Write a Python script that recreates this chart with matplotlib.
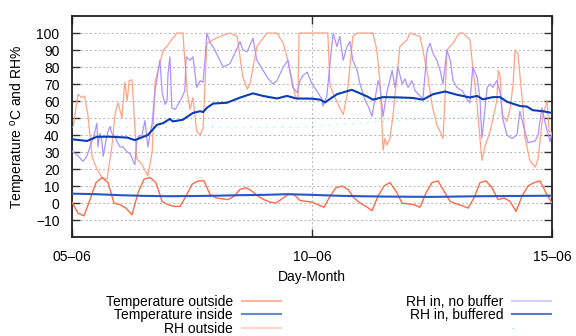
import numpy as np
import matplotlib
matplotlib.use("Agg")
import matplotlib.pyplot as plt
from matplotlib.lines import Line2D

plt.rcParams["font.family"] = ["Liberation Sans", "DejaVu Sans"]
plt.rcParams["font.size"] = 10
plt.rcParams["mathtext.fontset"] = "custom"
plt.rcParams["mathtext.rm"] = "Liberation Sans"

# --- data (days since 05-06 00:00) ---
# Temperature outside, every 3 hours
temp_out_day = np.arange(0, 10.001, 0.125)
temp_out = [0.5, -6, -7.5, 2, 12, 15, 12, 0, -1, -3, -7, 6, 14, 15, 12, 1,
            -1, -2, -2, 4, 11, 13, 13, 5, 3, 2.5, 2, 4, 8, 9, 7, 4,
            2, 0.5, 0, 2.5, 5, 5, 1.5, 1, 0.5, -1, -2.5, 4, 9, 10, 8, 3,
            0, -2, -4.5, 4, 10, 12, 7, 0, -0.5, -1, -2.5, 6, 12, 13, 7, 1,
            -0.5, -1.5, -3, 3, 12, 13, 9, 2, 3, 1, -5, 4, 10, 12, 13, 6, 0]

# Temperature inside, every 12 hours
temp_in_day = np.arange(0, 10.001, 0.5)
temp_in = [5.5, 5.2, 4.6, 4.2, 4.0, 4.1, 4.3, 4.6, 4.8, 5.2, 4.8,
           4.3, 4.0, 3.8, 3.7, 3.6, 3.8, 4.0, 4.1, 4.2, 4.3]

# RH outside
rh_out_day = [0.0, 0.03, 0.125, 0.2, 0.26, 0.33, 0.42, 0.52, 0.625, 0.73,
              0.83, 0.9, 0.96, 1.04, 1.1, 1.15, 1.19, 1.25, 1.35, 1.45,
              1.58, 1.67, 1.73, 1.9, 1.97, 2.1, 2.19, 2.31, 2.4, 2.46,
              2.52, 2.6, 2.67, 2.73, 2.81, 2.94, 3.08, 3.29, 3.44, 3.56,
              3.65, 3.71, 3.85, 4.06, 4.27, 4.4, 4.48, 4.58, 4.65, 4.71,
              4.73, 5.33, 5.375, 5.48, 5.58, 5.65, 5.73, 5.79, 5.85, 5.94,
              6.27, 6.35, 6.42, 6.46, 6.48, 6.52, 6.56, 6.625, 6.69, 6.83,
              6.98, 7.04, 7.25, 7.31, 7.4, 7.5, 7.6, 7.67, 7.73, 7.77,
              7.81, 7.94, 8.02, 8.08, 8.15, 8.29, 8.35, 8.44, 8.5, 8.54,
              8.6, 8.71, 8.85, 8.88, 8.92, 8.96, 9.06, 9.125, 9.19, 9.23,
              9.29, 9.38, 9.44, 9.54, 9.65, 9.71, 9.81, 9.9, 9.94, 10.0]
rh_out = [45, 46, 64, 62, 63, 52, 27, 20, 15, 14,
          33, 53, 59, 50, 71, 60, 72, 72.5, 26, 23,
          16, 30, 71, 90, 92, 97, 100, 100, 65, 55,
          62, 42, 40, 44, 94, 96, 98, 100, 98, 74,
          67, 70, 92, 100, 100, 94, 86, 73, 63, 61,
          100, 100, 69, 62, 56, 52, 63, 80, 98, 100,
          100, 90, 70, 45, 31, 38, 34, 38, 52, 92,
          96, 100, 98, 90, 77, 58, 46, 42, 38, 61,
          90, 94, 98, 100, 100, 96, 80, 58, 38, 25,
          33, 42, 60, 78, 75, 52, 48, 55, 70, 90,
          88, 61, 38, 25, 21, 26, 52, 60, 42, 42]

# RH inside, no buffer
rh_nobuf_day = [0.0, 0.1, 0.23, 0.31, 0.375, 0.42, 0.46, 0.52, 0.54, 0.58,
                0.62, 0.65, 0.71, 0.75, 0.79, 0.83, 0.9, 0.94, 1.0, 1.06,
                1.15, 1.21, 1.27, 1.31, 1.35, 1.38, 1.46, 1.52, 1.58, 1.67,
                1.73, 1.83, 1.88, 1.94, 1.98, 2.0, 2.04, 2.08, 2.15, 2.21,
                2.29, 2.35, 2.38, 2.46, 2.52, 2.6, 2.67, 2.73, 2.77, 2.81,
                2.88, 2.94, 3.08, 3.15, 3.29, 3.44, 3.5, 3.56, 3.65, 3.77,
                3.85, 3.98, 4.08, 4.19, 4.27, 4.4, 4.5, 4.6, 4.69, 4.75,
                4.81, 4.9, 5.0, 5.1, 5.21, 5.23, 5.31, 5.375, 5.44, 5.52,
                5.58, 5.65, 5.73, 5.79, 5.85, 5.94, 6.0, 6.1, 6.17, 6.25,
                6.31, 6.38, 6.42, 6.48, 6.56, 6.67, 6.73, 6.79, 6.88, 6.94,
                7.0, 7.08, 7.15, 7.25, 7.31, 7.4, 7.46, 7.52, 7.6, 7.67,
                7.73, 7.81, 7.88, 7.94, 8.02, 8.13, 8.23, 8.29, 8.35, 8.44,
                8.5, 8.54, 8.58, 8.65, 8.71, 8.77, 8.85, 8.92, 8.98, 9.06,
                9.17, 9.27, 9.33, 9.4, 9.5, 9.65, 9.71, 9.79, 9.85, 9.96,
                10.0]
rh_nobuf = [30.4, 28.5, 24.5, 27.6, 33, 37, 40, 47, 33, 41,
            37, 27.5, 37, 42, 45, 41, 39, 36, 33, 33,
            30, 29, 25, 22.6, 37, 39, 40, 48.5, 33, 47,
            66, 84, 65, 58, 60, 76, 86, 56, 55, 58,
            62, 66, 86, 84, 86, 68, 72, 71, 84, 100,
            94, 92, 84, 80, 82, 91, 95, 90, 89, 97,
            84, 78, 73.5, 70, 72, 80, 84, 68, 65, 72,
            75, 77, 70, 66, 61, 57, 63, 82, 100, 92,
            98, 84, 92, 95, 84, 78, 70, 61, 57, 51,
            61, 72, 68, 51, 65, 78, 68, 80, 70, 73,
            68, 72, 66, 63, 61, 90, 94, 88, 84, 78,
            70, 90, 84, 72, 68, 66, 61, 59, 80, 74,
            61, 38, 49, 68, 70, 68, 72, 65, 49, 40,
            38, 40, 54, 46, 35.5, 36.5, 40, 56, 48, 36,
            42]

# RH inside, buffered
rh_buf_day = [0, 0.31, 0.52, 0.79, 1.15, 1.31, 1.58, 1.77, 1.9, 2.04,
              2.1, 2.31, 2.52, 2.67, 2.73, 2.81, 2.94, 3.23, 3.5, 3.77,
              3.98, 4.27, 4.48, 4.67, 5.0, 5.17, 5.27, 5.52, 5.83, 6.15,
              6.27, 6.48, 6.83, 7.1, 7.31, 7.52, 7.77, 8.02, 8.29, 8.44,
              8.56, 8.77, 8.92, 9.06, 9.33, 9.48, 9.6, 9.81, 10]
rh_buf = [37.5, 36.5, 39, 39, 38.5, 37, 40, 46, 47, 49.5,
          48, 49, 53, 54, 53.5, 56, 58.5, 59, 62, 64.5,
          63, 61.5, 63, 61.5, 61.4, 60.8, 59.2, 64, 66.6, 62.7,
          60.8, 62.3, 62.1, 61.8, 60.8, 64, 65.6, 63.7, 62.1, 63,
          61, 62.3, 62.3, 59.6, 57.1, 56.7, 54.6, 54, 53]

# unlabelled sparse series
extra_day = [0, 4.7, 5.5, 7.0, 8.5, 10]
extra = [44.5, 44.5, 46, 49, 51, 52.5]

xtick_pos = [0, 5, 10]
xtick_labels = ["05\u201306", "10\u201306", "15\u201306"]
labels = ["Temperature outside", "Temperature inside", "RH outside",
          "RH in, no buffer", "RH in, buffered", ""]

fig = plt.figure(figsize=(5.76, 3.36), dpi=100)
ax = fig.add_axes([0.125, 0.2946, 0.8333, 0.6577])

ax.plot(rh_out_day, rh_out, color="#ffa385", lw=0.9, zorder=2)
ax.plot(rh_nobuf_day, rh_nobuf, color="#ad92ff", lw=0.9, zorder=3)
ax.plot(extra_day, extra, color="#40e8e8", lw=0.8, ls=(0, (1, 6)), alpha=0.7, zorder=3)
ax.plot(temp_out_day, temp_out, color="#ff6a45", lw=1.0, zorder=4)
ax.plot(temp_in_day, temp_in, color="#2a55c4", lw=1.5, zorder=5)
ax.plot(rh_buf_day, rh_buf, color="#0a3cb4", lw=1.5, zorder=5)

ax.set_xlim(0, 10)
ax.set_ylim(-20, 110)
ax.set_xticks(xtick_pos)
ax.set_xticklabels(xtick_labels)
ax.set_yticks(np.arange(-10, 101, 10))

ax.tick_params(direction="in", length=6, width=1.0, top=True, right=True,
               labelsize=10, pad=9, color="#303030")
ax.grid(True, color="#b4b4b4", linestyle=(0, (2, 2.5)), linewidth=0.7)
ax.set_axisbelow(True)
for s in ax.spines.values():
    s.set_linewidth(1.3)
    s.set_color("#202020")

ax.set_xlabel("Day-Month", fontsize=10)
ax.xaxis.set_label_coords(0.5, -0.18)
ax.xaxis.label.set_va("center")
ax.set_ylabel(r"Temperature $^{\mathrm{o}}$C and RH%", fontsize=10)
ax.yaxis.set_label_coords(-0.112, 0.5)
ax.yaxis.label.set_va("center")

handles = [
    Line2D([], [], color="#ffb4a0", lw=1.5),
    Line2D([], [], color="#6a88d8", lw=1.5),
    Line2D([], [], color="#ffd4c4", lw=1.5),
    Line2D([], [], color="#d8ccff", lw=1.5),
    Line2D([], [], color="#5a7ad4", lw=1.5),
    Line2D([], [], color="#40e8e8", lw=0.8, ls=(0, (1, 40))),
]
fig.legend(handles, labels, ncol=2, loc="upper right",
           bbox_to_anchor=(551 / 576, 1 - 295 / 336), frameon=False,
           markerfirst=False, handlelength=2.8, handletextpad=0.65,
           columnspacing=9.0, labelspacing=-0.05, borderpad=0,
           borderaxespad=0, fontsize=10)

fig.savefig("out.png", dpi=100)
